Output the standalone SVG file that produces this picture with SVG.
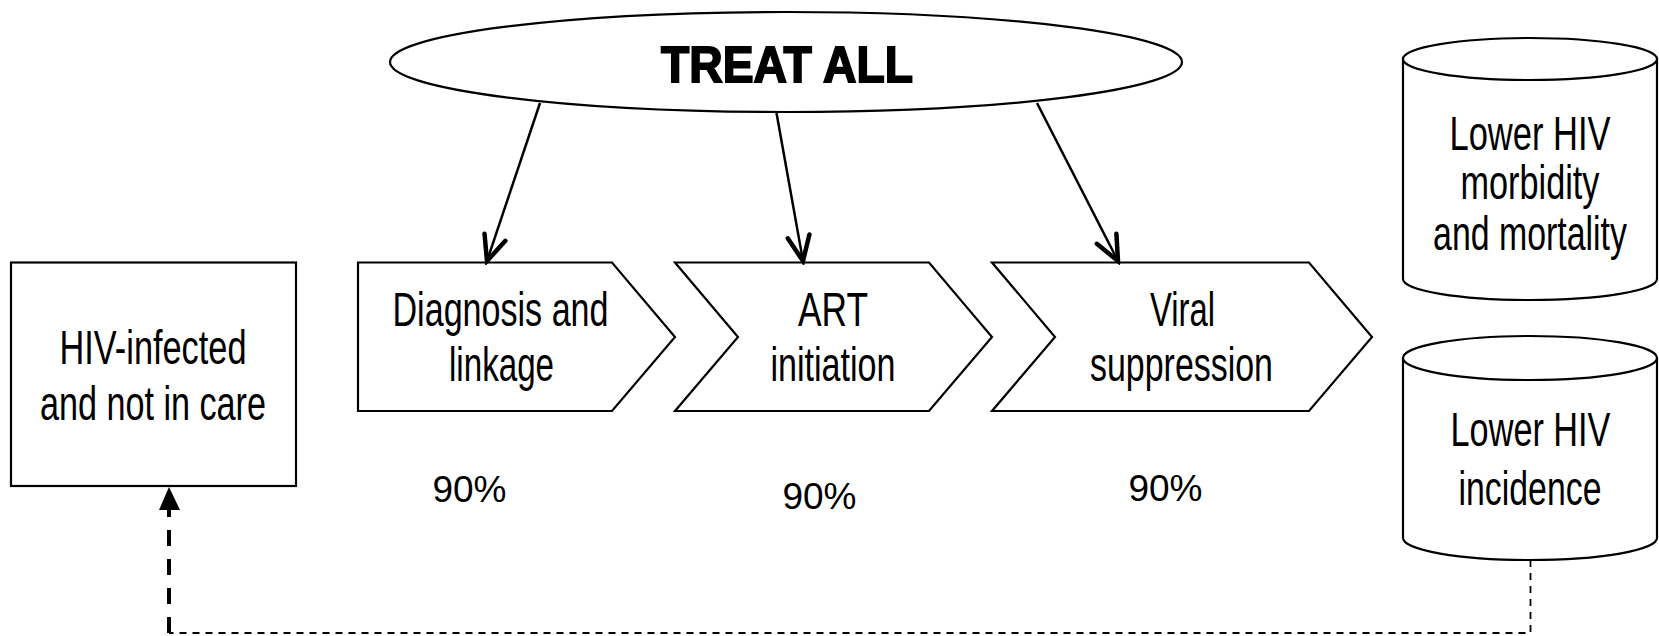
<svg xmlns="http://www.w3.org/2000/svg" width="1659" height="636" viewBox="0 0 1659 636">
<style>
.shape{fill:#fff;stroke:#000;stroke-width:2.2}
.lbl{font-family:"Liberation Sans",Arial,sans-serif;font-size:48px;fill:#000;text-anchor:middle}
.pct{font-family:"Liberation Sans",Arial,sans-serif;font-size:37px;fill:#000;text-anchor:middle}
.title{font-family:"Liberation Sans",Arial,sans-serif;font-size:50px;font-weight:bold;fill:#000;stroke:#000;stroke-width:1.8;text-anchor:middle}
.arrow{fill:none;stroke:#000;stroke-width:2.5}
</style>
<defs>
<marker id="vhead" markerUnits="userSpaceOnUse" viewBox="-30 -16 34 32" refX="0" refY="0" markerWidth="34" markerHeight="32" orient="auto">
<path d="M-25,-11 L0,0 L-25,11" fill="none" stroke="#000" stroke-width="4.5" stroke-linecap="round" stroke-linejoin="miter"/>
</marker>
</defs>
<g id="treat-all">
<ellipse class="shape" cx="786" cy="62" rx="396" ry="50"/>
<text class="title" x="787" y="82" textLength="252" lengthAdjust="spacingAndGlyphs">TREAT ALL</text>
</g>
<g id="hiv-infected">
<rect class="shape" x="11" y="262.5" width="285" height="223.5"/>
<text class="lbl" x="153" y="364" textLength="187" lengthAdjust="spacingAndGlyphs">HIV-infected</text>
<text class="lbl" x="153" y="420" textLength="226" lengthAdjust="spacingAndGlyphs">and not in care</text>
</g>
<g id="diagnosis">
<path class="shape" d="M358,262.5 L612,262.5 L675,337 L612,411 L358,411 Z"/>
<text class="lbl" x="500.5" y="326" textLength="216" lengthAdjust="spacingAndGlyphs">Diagnosis and</text>
<text class="lbl" x="501.5" y="381" textLength="105" lengthAdjust="spacingAndGlyphs">linkage</text>
</g>
<g id="art">
<path class="shape" d="M675,262.5 L929,262.5 L992,337 L929,411 L675,411 L738,337 Z"/>
<text class="lbl" x="833" y="326" textLength="70" lengthAdjust="spacingAndGlyphs">ART</text>
<text class="lbl" x="833" y="381" textLength="125" lengthAdjust="spacingAndGlyphs">initiation</text>
</g>
<g id="viral">
<path class="shape" d="M992,262.5 L1309,262.5 L1372,337 L1309,411 L992,411 L1055,337 Z"/>
<text class="lbl" x="1182.5" y="326" textLength="65" lengthAdjust="spacingAndGlyphs">Viral</text>
<text class="lbl" x="1181.5" y="381" textLength="183" lengthAdjust="spacingAndGlyphs">suppression</text>
</g>
<g id="pct1"><text class="pct" x="469.5" y="502">90%</text></g>
<g id="pct2"><text class="pct" x="819.5" y="509">90%</text></g>
<g id="pct3"><text class="pct" x="1165.5" y="501">90%</text></g>
<g id="morbidity">
<path class="shape" d="M1403,59 L1403,279 A127,21 0 0 0 1657,279 L1657,59 Z"/>
<ellipse class="shape" cx="1530" cy="59" rx="127" ry="21"/>
<text class="lbl" transform="translate(1530,149.5) scale(0.719,1)" x="0" y="0">Lower HIV</text>
<text class="lbl" transform="translate(1530,198.5) scale(0.714,1)" x="0" y="0">morbidity</text>
<text class="lbl" transform="translate(1530,249.5) scale(0.706,1)" x="0" y="0">and mortality</text>
</g>
<g id="incidence">
<path class="shape" d="M1403,358 L1403,538 A127,22 0 0 0 1657,538 L1657,358 Z"/>
<ellipse class="shape" cx="1530" cy="358" rx="127" ry="22"/>
<text class="lbl" transform="translate(1530.5,446) scale(0.714,1)" x="0" y="0">Lower HIV</text>
<text class="lbl" transform="translate(1530,505) scale(0.705,1)" x="0" y="0">incidence</text>
</g>
<g id="connectors">
<line class="arrow" x1="540" y1="103" x2="487" y2="261" marker-end="url(#vhead)"/>
<line class="arrow" x1="776.5" y1="113" x2="803" y2="261" marker-end="url(#vhead)"/>
<line class="arrow" x1="1037" y1="103" x2="1118" y2="261" marker-end="url(#vhead)"/>
<path d="M1530.5,560 L1530.5,633 L169,633" fill="none" stroke="#000" stroke-width="1.8" stroke-dasharray="7 6"/>
<path d="M169,633 L169,508" fill="none" stroke="#000" stroke-width="4" stroke-dasharray="16 13"/>
<path d="M169,487 L159,510 L180,510 Z" fill="#000"/>
</g>
</svg>
